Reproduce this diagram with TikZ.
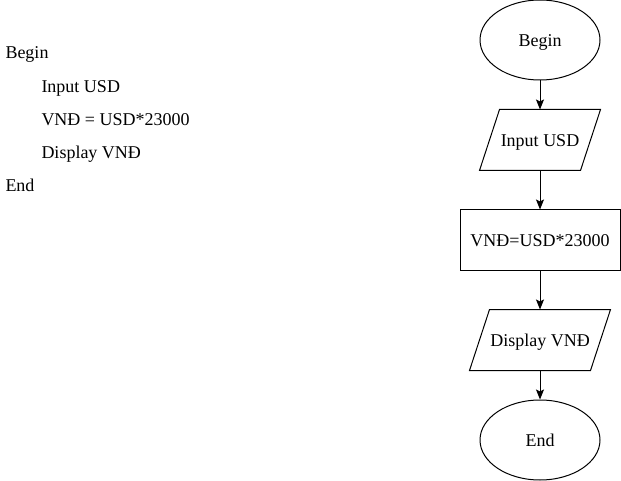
\documentclass[tikz,border=0pt]{standalone}
\usepackage{fontspec}
\setmainfont{Liberation Serif}
\usetikzlibrary{shapes.geometric,arrows.meta}

\begin{document}
\begin{tikzpicture}
[x=1pt,y=-1pt,line width=1pt,font=\fontsize{18}{22}\selectfont,
 boxText/.style={text height=16pt,text depth=3pt,inner sep=0pt},
 termDecorate/.style={boxText,shape=ellipse,draw,minimum width=120pt,minimum height=80pt},
 ioDecorate/.style={boxText,shape=rectangle,minimum height=60pt},
 procDecorate/.style={boxText,shape=rectangle,draw,minimum width=160pt,minimum height=60pt},
 lineDecorate/.style={anchor=base west,inner sep=0pt}]
\useasboundingbox (0,0) rectangle (621,481);
%% pseudo code
\foreach \linename/\x/\y/\linetext in {l1/5/59/Begin, l2/41/93/Input USD,
  l3/41/126/VNĐ = USD*23000, l4/41/159/Display VNĐ, l5/5/192/End}
{
  \node (\linename) at (\x,\y) [lineDecorate] {\linetext};
}
%% flowchart blocks
\node (begin) at (540,40) [termDecorate] {Begin};
\node (input) at (540,140) [ioDecorate,minimum width=100pt] {Input USD};
\node (calc) at (540,240) [procDecorate] {VNĐ=USD*23000};
\node (show) at (540,340) [ioDecorate,minimum width=120pt] {Display VNĐ};
\node (finish) at (540,440) [termDecorate] {End};
%% slanted sides of the input/output blocks
\foreach \nodename in {input, show}
{
  \draw ([xshift=-10pt]\nodename.south west) -- ([xshift=10pt]\nodename.north west)
    -- ([xshift=10pt]\nodename.north east) -- ([xshift=-10pt]\nodename.south east) -- cycle;
}
%% arrows
\tikzstyle{EdgeStyle}=[->,>={Stealth[length=10pt,width=8pt,inset=2pt]}]
\foreach \startnode/\endnode in {begin/input, input/calc, calc/show, show/finish}
{
  \draw[EdgeStyle] (\startnode) -- (\endnode);
}
\end{tikzpicture}
\end{document}
